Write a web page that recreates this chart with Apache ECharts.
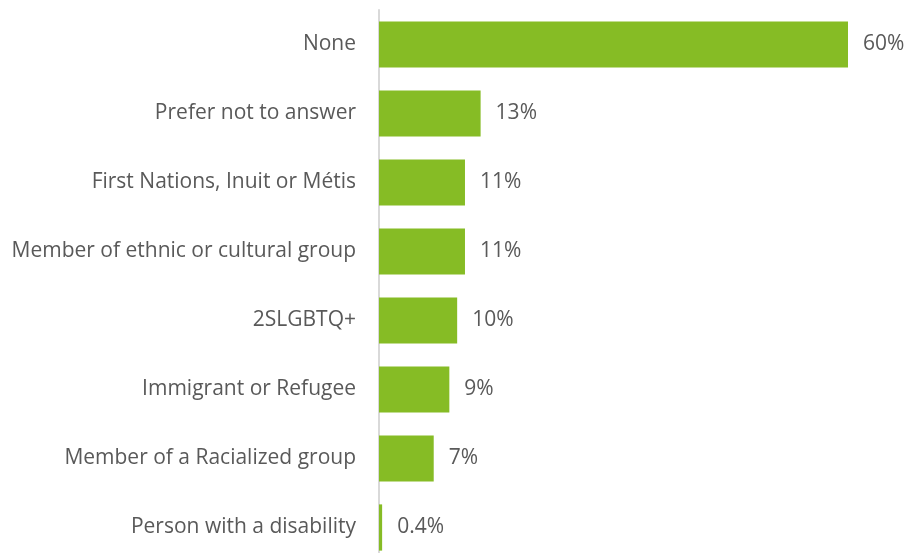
<!DOCTYPE html>
<html>
<head>
<meta charset="utf-8">
<script src="https://cdn.jsdelivr.net/npm/echarts@6/dist/echarts.min.js"></script>
<style>
  html, body { margin: 0; padding: 0; background: #ffffff; overflow: hidden; }
  /* the last row runs slightly past the bottom edge of the view */
  #chart { width: 908px; height: 562px; }
</style>
</head>
<body>
<div id="chart"></div>
<script>
// Identity groups, top to bottom
const categories = [
  'None',
  'Prefer not to answer',
  'First Nations, Inuit or Métis',
  'Member of ethnic or cultural group',
  '2SLGBTQ+',
  'Immigrant or Refugee',
  'Member of a Racialized group',
  'Person with a disability'
];
// Share of respondents (%)
const shares = [60, 13, 11, 11, 10, 9, 7, 0.4];

const chart = echarts.init(document.getElementById('chart'), null, { renderer: 'canvas' });
const fontFamily = '"Open Sans", sans-serif';

chart.setOption({
  animation: false,
  grid: { left: 379, top: 10, right: 60, bottom: 0, containLabel: false },
  xAxis: {
    type: 'value', min: 0, max: 60,
    show: false
  },
  yAxis: {
    type: 'category',
    inverse: true,
    data: categories,
    axisLine: { show: true, lineStyle: { color: '#d9d9d9', width: 2 } },
    axisTick: { show: false },
    axisLabel: { color: '#595959', fontSize: 21, fontFamily: fontFamily, margin: 23 },
    splitLine: { show: false }
  },
  series: [{
    type: 'bar',
    data: shares,
    barCategoryGap: '33%',
    itemStyle: { color: '#86bc25' },
    label: {
      show: true,
      position: 'right',
      distance: 15,
      color: '#595959',
      fontSize: 21,
      fontFamily: fontFamily,
      formatter: p => p.value + '%'
    }
  }]
});
</script>
</body>
</html>
